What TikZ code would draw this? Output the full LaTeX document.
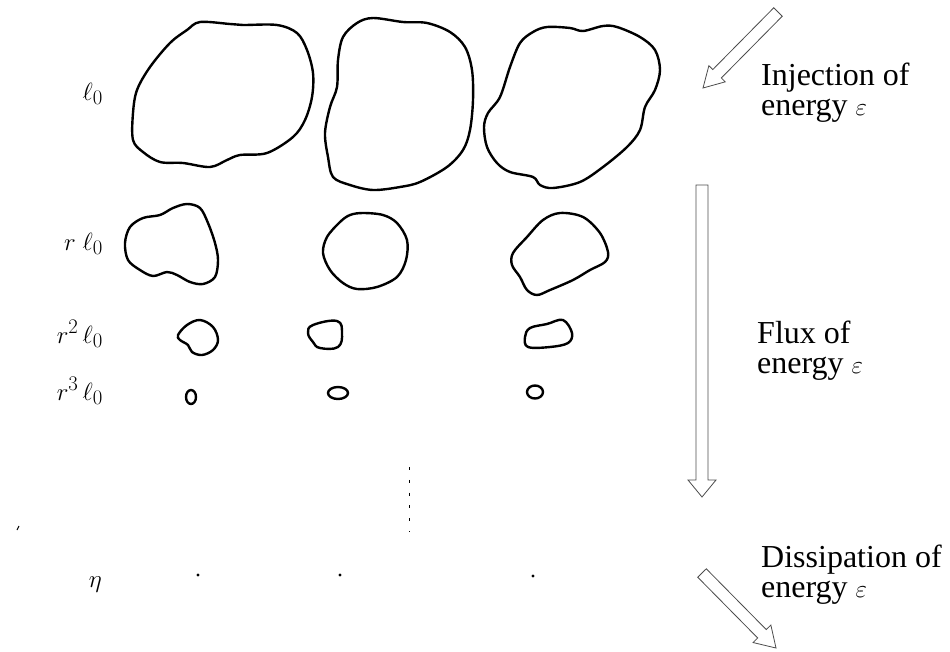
\documentclass[tikz,border=0pt]{standalone}
\usepackage{fontspec}
\setmainfont{Liberation Serif}
\usetikzlibrary{calc}

% hollow block arrow: tail, tip, shaft half-width, head half-width, head length
\newcommand\hollowarrow[5]{%
  \coordinate (#2-neck) at ($(#2)!#5!(#1)$);
  \draw[arrowline] ($(#1)!#3!90:(#2)$) -- ($(#2-neck)!#3!90:(#2)$)
    -- ($(#2-neck)!#4!90:(#2)$) -- (#2) -- ($(#2-neck)!#4!-90:(#2)$)
    -- ($(#2-neck)!#3!-90:(#2)$) -- ($(#1)!#3!-90:(#2)$) -- cycle;
}

\begin{document}
\begin{tikzpicture}[x=1pt,y=-1pt,
  blob/.style={line width=2.4pt, line join=round},
  arrowline/.style={line width=0.8pt, draw=black!70, line join=miter},
  txt/.style={inner sep=0pt, anchor=base west, font=\fontsize{32}{30}\selectfont},
  sizelabel/.style={inner sep=0pt, anchor=base east, font=\fontsize{30}{30}\selectfont}]
\useasboundingbox (0,0) rectangle (950,651);

% scale labels
\node[sizelabel] (l0) at (103,100) {$\ell_0$};
\node[sizelabel] (l1) at (103,250) {$r\;\ell_0$};
\node[sizelabel] (l2) at (103,343) {$r^2\,\ell_0$};
\node[sizelabel] (l3) at (103,400) {$r^3\,\ell_0$};
\node[sizelabel] (eta) at (102,587) {$\eta$};

% largest eddies
\draw[blob] plot[smooth cycle, tension=0.55] coordinates {
  (200,22) (230,24) (243,25) (277,25) (297,33) (307,50) (313,73) (312,97)
  (305,120) (293,137) (267,153) (240,155) (227,160) (210,167) (183,163)
  (160,162) (143,152) (133,140) (133,113) (137,90) (150,67) (170,43) (187,30)};
\draw[blob] plot[smooth cycle, tension=0.55] coordinates {
  (373,18) (403,22) (427,23) (450,32) (465,47) (472,70) (473,100) (470,130)
  (463,150) (447,167) (420,182) (400,187) (373,190) (350,185) (333,177)
  (328,157) (325,133) (330,107) (337,87) (338,60) (343,37) (357,23)};
\draw[blob] plot[smooth cycle, tension=0.55] coordinates {
  (547,27) (570,28) (583,31) (603,26) (617,27) (640,37) (655,50) (660,70)
  (655,90) (645,107) (640,130) (627,147) (603,167) (580,182) (553,188)
  (540,185) (533,177) (510,172) (497,163) (487,147) (484,127) (488,113)
  (500,97) (510,67) (520,43) (533,32)};

% second generation
\draw[blob] plot[smooth cycle, tension=0.55] coordinates {
  (187,204) (200,208) (208,223) (215,243) (218,260) (215,277) (203,284)
  (190,282) (177,275) (167,272) (153,276) (140,270) (128,260) (125,243)
  (130,227) (143,218) (160,215) (173,208)};
\draw[blob] plot[smooth cycle, tension=0.55] coordinates {
  (363,213) (383,215) (397,223) (407,240) (406,260) (397,277) (377,287)
  (357,289) (343,283) (330,270) (323,253) (327,237) (340,222) (350,215)};
\draw[blob] plot[smooth cycle, tension=0.55] coordinates {
  (560,213) (583,217) (600,233) (608,252) (605,262) (590,270) (573,280)
  (550,290) (537,295) (527,290) (520,277) (512,265) (513,253) (527,237)
  (543,220)};

% third generation
\draw[blob] plot[smooth cycle, tension=0.6] coordinates {
  (200,320) (213,327) (218,340) (213,350) (202,355) (192,352) (188,345)
  (180,340) (178,335) (187,325)};
\draw[blob] plot[smooth cycle, tension=0.7] coordinates {
  (313,325) (337,321) (342,333) (338,347) (320,348) (313,342) (308,333)};
\draw[blob] plot[smooth cycle, tension=0.6] coordinates {
  (530,328) (547,324) (563,320) (572,333) (568,343) (550,347) (528,347)
  (525,337)};

% fourth generation
\draw[blob] (191,397) ellipse [x radius=5, y radius=7];
\draw[blob] (338,393) ellipse [x radius=10, y radius=6];
\draw[blob] (535,392) ellipse [x radius=8, y radius=6.5];

% cascade continues
\coordinate (dtop) at (409,467);
\coordinate (dbot) at (409,532);
\draw[line width=1pt, dash pattern=on 3pt off 9.8pt] (dtop) -- (dbot);

% dissipative scale
\fill (198,575) circle (1.6);
\fill (340,575) circle (1.6);
\fill (533,576) circle (1.6);
\draw[line width=1pt] (17,530) -- (19,526);

% energy arrows
\coordinate (injT) at (778,12);
\coordinate (injH) at (703,88);
\hollowarrow{injT}{injH}{6pt}{11.5pt}{20pt}
\coordinate (fluxT) at (702,185);
\coordinate (fluxH) at (702,497);
\hollowarrow{fluxT}{fluxH}{6pt}{14pt}{17pt}
\coordinate (disT) at (702,573);
\coordinate (disH) at (776,648);
\hollowarrow{disT}{disH}{6pt}{12.5pt}{20pt}

% captions
\node[txt] (inj1) at (761,85) {Injection of};
\node[txt] (inj2) at (761,115) {energy $\varepsilon$};
\node[txt] (flux1) at (757,343) {Flux of};
\node[txt] (flux2) at (757,373) {energy $\varepsilon$};
\node[txt] (dis1) at (761,567) {Dissipation of};
\node[txt] (dis2) at (761,597) {energy $\varepsilon$};
\end{tikzpicture}
\end{document}
